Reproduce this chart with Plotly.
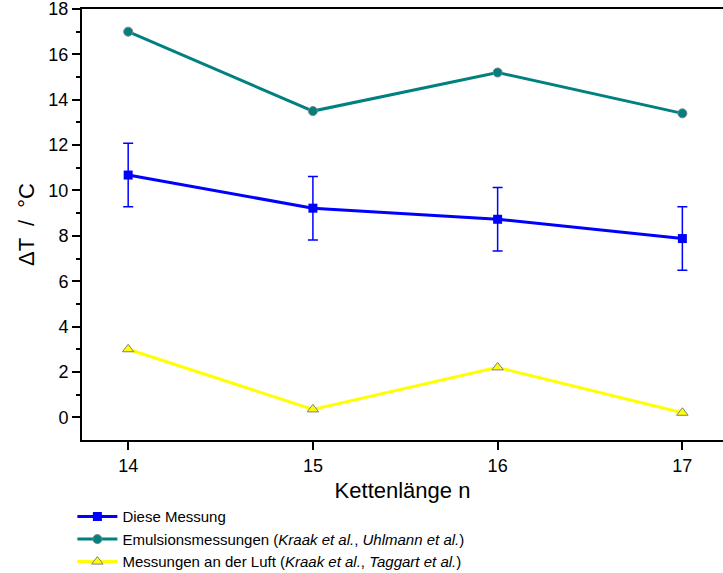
import plotly.graph_objects as go

n = [14, 15, 16, 17]
diese = [10.68, 9.22, 8.73, 7.88]
diese_err = [1.4, 1.4, 1.4, 1.4]
emulsion = [17.0, 13.5, 15.2, 13.4]
luft = [3.0, 0.35, 2.2, 0.2]

fig = go.Figure()
fig.add_trace(go.Scatter(
    x=n, y=diese, name="Diese Messung", mode="lines+markers",
    line=dict(color="#0000FF", width=3),
    marker=dict(symbol="square", size=9, color="#0000FF"),
    error_y=dict(type="data", array=diese_err, visible=True, color="#0000FF", thickness=1.5, width=5),
))
fig.add_trace(go.Scatter(
    x=n, y=emulsion, name="Emulsionsmessungen (<i>Kraak et al.</i>, <i>Uhlmann et al.</i>)",
    mode="lines+markers",
    line=dict(color="#008080", width=3),
    marker=dict(symbol="circle", size=9, color="#008080", line=dict(color="#808080", width=1)),
))
fig.add_trace(go.Scatter(
    x=n, y=luft, name="Messungen an der Luft (<i>Kraak et al.</i>, <i>Taggart et al.</i>)",
    mode="lines+markers",
    line=dict(color="#FFFF00", width=3),
    marker=dict(symbol="triangle-up", size=10, color="#FFFF00", line=dict(color="#808080", width=1)),
))

fig.update_layout(
    width=723, height=573,
    margin=dict(l=82, r=0, t=9, b=133, autoexpand=False),
    plot_bgcolor="white", paper_bgcolor="white",
    font=dict(family="Liberation Sans, Arial, sans-serif", size=18, color="black"),
    showlegend=True,
    legend=dict(x=-0.015, y=-0.14, xanchor="left", yanchor="top",
                font=dict(size=15), tracegroupgap=0, itemwidth=40,
                bgcolor="rgba(0,0,0,0)"),
    xaxis=dict(
        range=[13.75, 17.22], tickvals=n, ticktext=[str(v) for v in n],
        showgrid=False, zeroline=False, showline=True, linecolor="black", linewidth=2,
        mirror=True, ticks="outside", ticklen=8, tickwidth=2, tickcolor="black",
        title=dict(text="Kettenlänge n", font=dict(size=22), standoff=8),
    ),
    yaxis=dict(
        range=[-1, 18], tickvals=[0, 2, 4, 6, 8, 10, 12, 14, 16, 18],
        showgrid=False, zeroline=False, showline=True, linecolor="black", linewidth=2,
        ticks="outside", ticklen=8, tickwidth=2, tickcolor="black",
        ticklabeloverflow="allow",
        minor=dict(tickvals=[1, 3, 5, 7, 9, 11, 13, 15, 17], ticks="outside", ticklen=4, tickwidth=2, tickcolor="black"),
        title=dict(text="ΔT  /  °C", font=dict(size=22), standoff=8),
    ),
)

fig.write_html("out.html")
